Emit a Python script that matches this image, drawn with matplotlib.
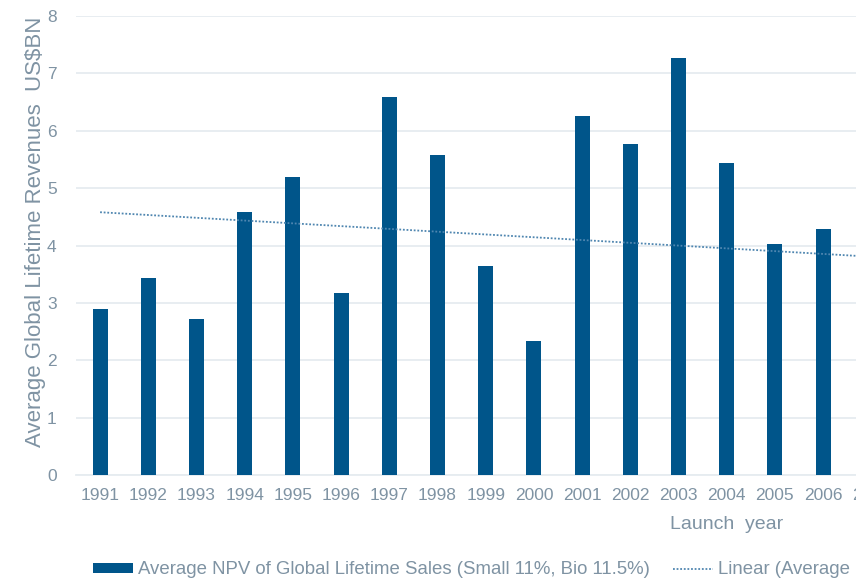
import matplotlib
matplotlib.use("Agg")
import matplotlib.pyplot as plt
from matplotlib.lines import Line2D
from matplotlib.patches import Patch
import numpy as np

# Launch years shown on the category axis
years = [str(y) for y in range(1991, 2018)]
# Average NPV of global lifetime sales per launch year (US$BN)
npv = [2.89, 3.43, 2.72, 4.58, 5.19, 3.17, 6.59, 5.58, 3.64, 2.34,
       6.26, 5.77, 7.27, 5.44, 4.03, 4.29]
# Linear trendline end values (first and last launch year)
trend_first = 4.58
trend_last = 3.32

BAR = "#00558a"
TREND = "#4f86b0"
TEXT = "#7f93a3"
GRID = "#e6ecf0"

plt.rcParams["font.family"] = ["Liberation Sans", "DejaVu Sans"]

W, H = 856, 583
fig = plt.figure(figsize=(W / 100, H / 100), dpi=100)
step = 48.2
left_px, bottom_px, top_px = 76, 475, 16
ax_w = step * len(years)
ax = fig.add_axes([left_px / W, (H - bottom_px) / H,
                   ax_w / W, (bottom_px - top_px) / H])

x = np.arange(len(years))
ax.bar(x[:len(npv)], npv, width=0.31, color=BAR, zorder=3)

trend_x = np.array([0, len(years) - 1])
ax.plot(trend_x, [trend_first, trend_last], linestyle=(0, (1, 1)),
        color=TREND, linewidth=1.3, zorder=4)

ax.set_xlim(-0.5, len(years) - 0.5)
ax.set_ylim(0, 8)
ax.set_yticks(range(0, 9))
ax.set_xticks(x)
ax.set_xticklabels(years)
ax.yaxis.grid(True, color=GRID, linewidth=1.3)
ax.set_axisbelow(True)
for s in ["top", "right", "left"]:
    ax.spines[s].set_visible(False)
ax.spines["bottom"].set_color(GRID)
ax.spines["bottom"].set_linewidth(1.3)
ax.tick_params(axis="both", length=0, labelsize=12.5, colors=TEXT)
ax.tick_params(axis="y", pad=14)
ax.tick_params(axis="x", pad=9)

ax.set_ylabel("Average Global Lifetime Revenues  US$BN", fontsize=16,
              color=TEXT)
ax.yaxis.set_label_coords((46 - left_px) / ax_w, 0.53)
ax.set_xlabel("Launch  year", fontsize=14, color=TEXT, labelpad=9.5)

label = "Average NPV of Global Lifetime Sales (Small 11%, Bio 11.5%)"
handles = [Patch(facecolor=BAR, edgecolor="none"),
           Line2D([], [], linestyle=(0, (1, 1)), color=TREND, linewidth=1.3)]
fig.legend(handles, [label, "Linear (" + label + ")"], ncol=2,
           loc="center left", bbox_to_anchor=(84 / W, 1 - 570 / H),
           frameon=False, borderpad=0, fontsize=13.4, labelcolor=TEXT,
           handlelength=2.15, handleheight=0.48, columnspacing=1.2,
           handletextpad=0.27)

fig.savefig("out.png", dpi=100)
